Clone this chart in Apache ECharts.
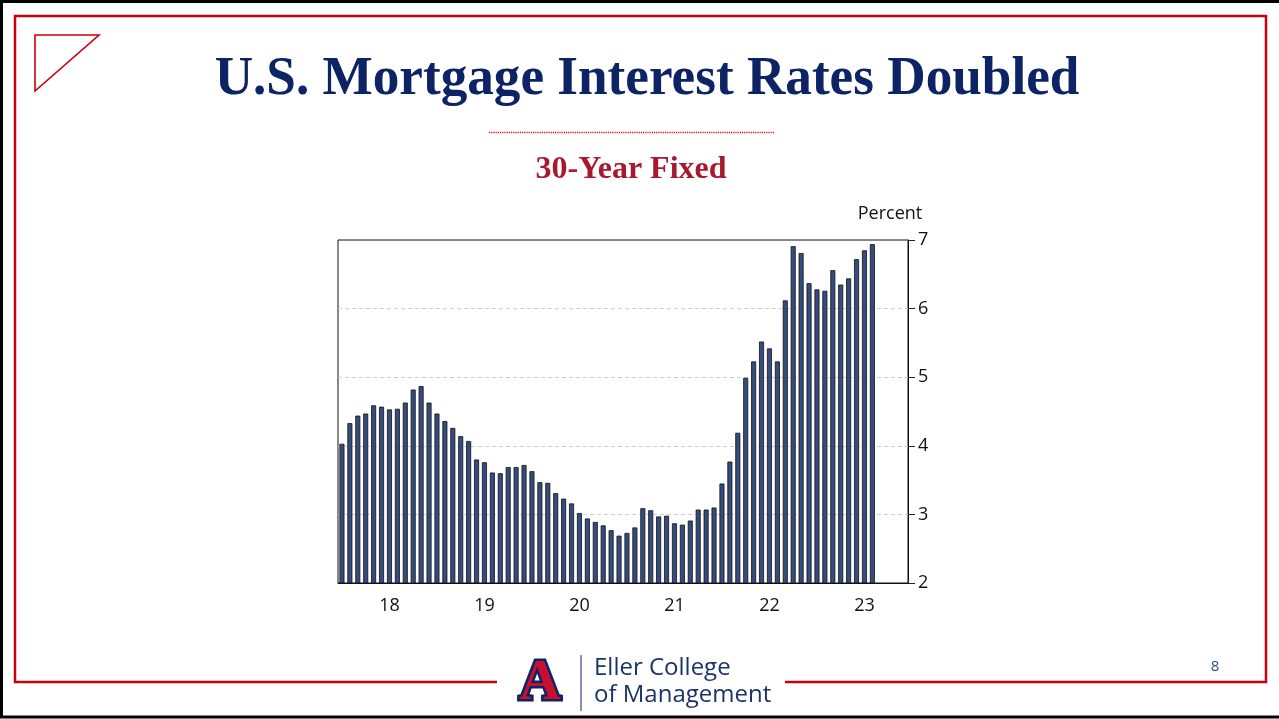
<!DOCTYPE html>
<html>
<head>
<meta charset="UTF-8">
<title>U.S. Mortgage Interest Rates Doubled</title>
<script src="https://cdn.jsdelivr.net/npm/echarts@6/dist/echarts.min.js"></script>
<style>
  html, body { margin: 0; padding: 0; background: #fff; }
  #main { width: 1279px; height: 719px; }
</style>
</head>
<body>
<div id="main"></div>
<script>
// monthly categories, Jan 2018 .. Dec 2023
var years = ['18', '19', '20', '21', '22', '23'];
var months = [];
years.forEach(function (y) {
    for (var m = 1; m <= 12; m++) months.push(y + '-' + (m < 10 ? '0' + m : m));
});

// 30-year fixed mortgage rate, monthly average, percent
var rate2018 = [4.03, 4.33, 4.44, 4.47, 4.59, 4.57, 4.53, 4.54, 4.63, 4.82, 4.87, 4.63];
var rate2019 = [4.47, 4.36, 4.26, 4.14, 4.07, 3.80, 3.76, 3.61, 3.60, 3.69, 3.69, 3.72];
var rate2020 = [3.63, 3.47, 3.46, 3.31, 3.23, 3.16, 3.02, 2.94, 2.89, 2.84, 2.77, 2.69];
var rate2021 = [2.73, 2.81, 3.09, 3.06, 2.97, 2.98, 2.87, 2.85, 2.91, 3.07, 3.07, 3.10];
var rate2022 = [3.45, 3.77, 4.19, 4.99, 5.23, 5.52, 5.42, 5.23, 6.12, 6.91, 6.81, 6.37];
var rate2023 = [6.28, 6.26, 6.56, 6.35, 6.44, 6.72, 6.85, 6.94];
var rates = rate2018.concat(rate2019, rate2020, rate2021, rate2022, rate2023);

var yTicks = [2, 3, 4, 5, 6, 7];

var myChart = echarts.init(document.getElementById('main'));

var option = {
    backgroundColor: '#fff',
    animation: false,
    grid: {
        left: 338, top: 240, width: 570, height: 343,
        show: true, borderColor: '#111', borderWidth: 1
    },
    xAxis: {
        type: 'category',
        data: months,
        boundaryGap: true,
        axisLine: { lineStyle: { color: '#111', width: 1 } },
        axisTick: {
            interval: function (i) { return i % 12 === 0; },
            length: 7,
            lineStyle: { color: '#222' }
        },
        axisLabel: {
            interval: function (i) { return i % 12 === 6; },
            formatter: function (v) { return v.split('-')[0]; },
            color: '#111',
            fontFamily: 'Open Sans',
            fontSize: 18,
            margin: 14
        },
        splitLine: { show: false }
    },
    yAxis: {
        type: 'value',
        position: 'right',
        min: yTicks[0],
        max: yTicks[yTicks.length - 1],
        interval: 1,
        axisLine: { show: true, lineStyle: { color: '#111' } },
        axisTick: { show: true, length: 7, lineStyle: { color: '#222' } },
        axisLabel: { color: '#111', fontFamily: 'Open Sans', fontSize: 18, margin: 10 },
        splitLine: {
            show: true,
            lineStyle: { color: ['#d0d0d0', '#d0d0d0', '#d0d0d0', '#d0d0d0', '#d0d0d0', 'rgba(0,0,0,0)'], type: [4, 3] }
        }
    },
    series: [{
        type: 'bar',
        data: rates,
        barWidth: 5,
        itemStyle: { color: '#344C7E', borderColor: '#111', borderWidth: 0.8 }
    }],
    graphic: [
        // outer black slide border
        { type: 'rect', shape: { x: 1.5, y: 1.5, width: 1300, height: 715.5 },
          style: { fill: 'none', stroke: '#000', lineWidth: 3 }, silent: true },
        // red frame with gap for logo
        { type: 'polyline', shape: { points: [[497, 682], [15, 682], [15, 16], [1266, 16], [1266, 682], [785, 682]] },
          style: { fill: 'none', stroke: '#C8000F', lineWidth: 2.5 }, silent: true },
        // corner triangle
        { type: 'polygon', shape: { points: [[35, 35], [99, 35], [35, 91]] },
          style: { fill: 'none', stroke: '#C8000F', lineWidth: 1.6 }, silent: true },
        // title
        { type: 'text', x: 647, y: 80, scaleX: 0.985,
          style: { text: 'U.S. Mortgage Interest Rates Doubled', fill: '#0C2366',
                   font: 'bold 54px "Liberation Serif", serif', align: 'center', verticalAlign: 'middle' } },
        // dotted separator
        { type: 'line', shape: { x1: 489, y1: 132.5, x2: 775, y2: 132.5 },
          style: { stroke: '#D0101E', lineWidth: 1.5, lineDash: [1.2, 1] } },
        // subtitle
        { type: 'text', x: 631, y: 170,
          style: { text: '30-Year Fixed', fill: '#A6192E',
                   font: 'bold 32px "Liberation Serif", serif', align: 'center', verticalAlign: 'middle' } },
        // unit label
        { type: 'text', x: 890, y: 214,
          style: { text: 'Percent', fill: '#111', font: '18px "Open Sans", sans-serif',
                   align: 'center', verticalAlign: 'middle' } },
        // page number
        { type: 'text', x: 1215, y: 667,
          style: { text: '8', fill: '#2A4A96', font: '15px "Open Sans", sans-serif',
                   align: 'center', verticalAlign: 'middle' } },
        // logo block A
        { type: 'text', x: 540, y: 684,
          style: { text: 'A', fill: '#C8102E', stroke: '#0C2366', lineWidth: 5,
                   font: 'bold 58px "Liberation Serif", serif', align: 'center', verticalAlign: 'middle' } },
        { type: 'line', shape: { x1: 581, y1: 655, x2: 581, y2: 711 },
          style: { stroke: '#0C2366', lineWidth: 1 } },
        { type: 'text', x: 594, y: 668,
          style: { text: 'Eller College', fill: '#1B3468', font: '24px "Open Sans", sans-serif',
                   align: 'left', verticalAlign: 'middle' } },
        { type: 'text', x: 594, y: 695,
          style: { text: 'of Management', fill: '#1B3468', font: '24px "Open Sans", sans-serif',
                   align: 'left', verticalAlign: 'middle' } }
    ]
};

myChart.setOption(option);
</script>
</body>
</html>
